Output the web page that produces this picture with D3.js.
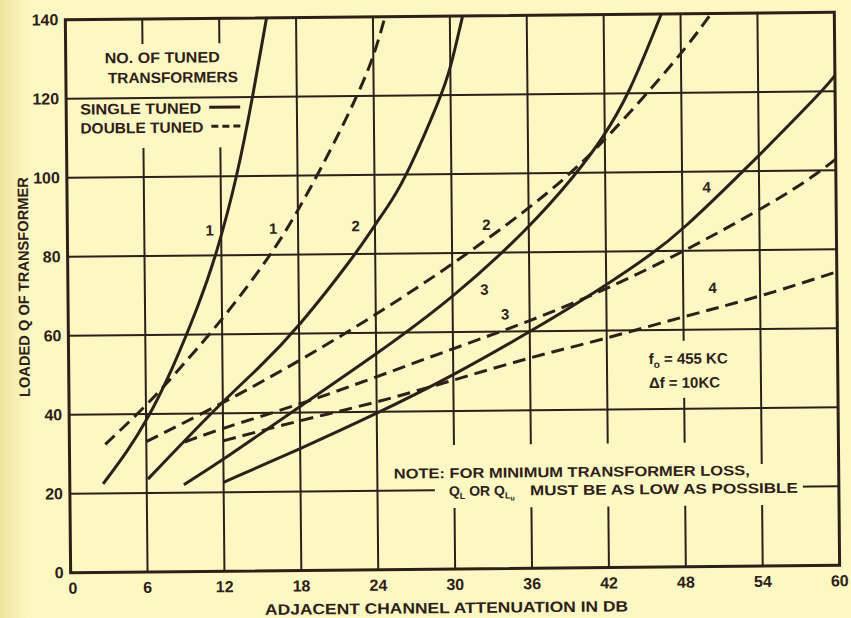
<!DOCTYPE html>
<html><head><meta charset="utf-8">
<script src="https://cdn.jsdelivr.net/npm/d3@7"></script>
<style>
html,body{margin:0;padding:0;background:#fcf8c3}
svg{display:block}
text{font-family:"Liberation Sans",Arial,sans-serif;font-weight:bold;fill:#2e2018}
</style>
</head><body>
<svg id="chart" width="851" height="618"></svg>
<script>
// ---- data ----
const attenuationTicks = [0, 6, 12, 18, 24, 30, 36, 42, 48, 54, 60];
const qTicks = [0, 20, 40, 60, 80, 100, 120, 140];

// [attenuation dB, loaded Q]
const single1 = [[2.6,22.4],[4.5,30.5],[6,38],[8,50.5],[10.2,67.5],[11.6,80],[13.3,100],[14.5,119],[15.7,140]];
const double1 = [[2.8,32.4],[6,42],[8,49],[12,63.5],[15.9,80],[17.9,90.5],[19.8,101.5],[21.9,114.5],[23.9,128.3],[24.9,139.5]];
const single2 = [[6.1,23.5],[11.8,42.5],[14.9,51.5],[17.9,61.3],[22.5,80],[24,87.3],[25.3,93.2],[26.6,100.2],[29.3,120],[30,126.5],[31,140]];
const double2 = [[6,33],[12,42.5],[18,53],[24,64.5],[30,77],[36,91],[39,99],[42,108],[48,129.5],[50.4,140]];
const single3 = [[8.9,22],[12,28.2],[18,41.5],[24,54.5],[30,68.5],[36,86],[39.7,99.5],[41.8,108.5],[43.9,119.5],[46.5,140]];
const double3 = [[9,32.8],[12,36.3],[18,42],[24,48.8],[30,55.8],[36,62.5],[41.8,70.1],[47.9,79.5],[54,90.1],[57.6,97],[60,102.8]];
const single4 = [[12,22.5],[18,30.8],[24,39.5],[30,49],[36,59.8],[41.8,71],[45.7,79.5],[47.9,85],[52.8,100],[59,120],[60,124]];
const double4 = [[12,33],[18,38],[24,42.3],[30,47.8],[36,53.4],[41.4,57.5],[48.2,63.5],[53.9,68.1],[59.9,74.2]];

const seriesData  = [single1, double1, single2, double2, single3, double3, single4, double4];
const seriesType  = ["single","double","single","double","single","double","single","double"];

// curve number labels
const labelText = ["1","1","2","2","3","3","4","4"];
const labelAtt  = [11.1, 16.05, 22.5, 32.7, 32.5, 34.1, 49.9, 50.3];
const labelQ    = [86.3, 86.6, 87.0, 87.0, 70.6, 64.3, 96.0, 70.5];

// ---- drawing ----
const W = 851, H = 618;
const L = 68, R = 837, T = 16, B = 569;
const ink = "#2e2018", bg = "#fcf8c3";

const svg = d3.select("#chart");
const defs = svg.append("defs");
const grad = defs.append("linearGradient").attr("id","edge").attr("x1","0").attr("x2","1");
grad.append("stop").attr("offset","0").attr("stop-color","#efe29c");
grad.append("stop").attr("offset","1").attr("stop-color",bg);
svg.append("rect").attr("width",W).attr("height",H).attr("fill",bg);
svg.append("rect").attr("width",28).attr("height",H).attr("fill","url(#edge)");

defs.append("clipPath").attr("id","plotclip").append("rect")
  .attr("x",L).attr("y",T).attr("width",R-L).attr("height",B-T);

const g = svg.append("g").attr("transform","rotate(-0.55,453,295)");

const x = d3.scaleLinear().domain([0,60]).range([L,R]);
const y = d3.scaleLinear().domain([0,140]).range([B,T]);

// vertical gridlines
g.append("g").selectAll("line").data(attenuationTicks.filter(d=>d>0&&d<60)).join("line")
  .attr("x1",d=>x(d)).attr("x2",d=>x(d)).attr("y1",T).attr("y2",B)
  .attr("stroke",ink).attr("stroke-width",2);

// legend knockout (cuts vertical gridlines)
g.append("rect").attr("x",76).attr("y",41).attr("width",176).attr("height",104).attr("fill",bg);

// horizontal gridlines
g.append("g").selectAll("line").data(qTicks.filter(d=>d>0&&d<140)).join("line")
  .attr("x1",L).attr("x2",R).attr("y1",d=>y(d)).attr("y2",d=>y(d))
  .attr("stroke",ink).attr("stroke-width",2);

// note / frequency knockouts
g.append("rect").attr("x",386).attr("y",445).attr("width",366).attr("height",37).attr("fill",bg);
g.append("rect").attr("x",433).attr("y",467).attr("width",368).attr("height",41).attr("fill",bg);
g.append("rect").attr("x",643).attr("y",343).attr("width",99).attr("height",57).attr("fill",bg);

// border
g.append("rect").attr("x",L).attr("y",T).attr("width",R-L).attr("height",B-T)
  .attr("fill","none").attr("stroke",ink).attr("stroke-width",3);

// curves
const line = d3.line().x(d=>x(d[0])).y(d=>y(d[1])).curve(d3.curveBasis);
g.append("g").attr("clip-path","url(#plotclip)").selectAll("path").data(seriesData).join("path")
  .attr("d",line).attr("fill","none").attr("stroke",ink).attr("stroke-width",3)
  .attr("stroke-linecap","butt")
  .attr("stroke-dasharray",(d,i)=>seriesType[i]==="double"?"13,7":null);

// curve labels
g.append("g").selectAll("text").data(labelText).join("text")
  .attr("x",(d,i)=>x(labelAtt[i])).attr("y",(d,i)=>y(labelQ[i])+5)
  .attr("text-anchor","middle").attr("font-size",15).text(d=>d);

// tick labels
g.append("g").selectAll("text").data(qTicks).join("text")
  .attr("x",61).attr("y",d=>y(d)+5.5).attr("text-anchor","end").attr("font-size",16)
  .text(d=>d);
g.append("g").selectAll("text").data(attenuationTicks).join("text")
  .attr("x",d=>x(d)+(d===0?2:0)).attr("y",B+21).attr("text-anchor","middle").attr("font-size",16)
  .text(d=>d);

// axis titles
g.append("text").attr("x",262).attr("y",613).attr("font-size",15)
  .attr("textLength",363).attr("lengthAdjust","spacingAndGlyphs")
  .text("ADJACENT CHANNEL ATTENUATION IN DB");
g.append("text").attr("transform","translate(29,393) rotate(-90)").attr("font-size",15)
  .attr("textLength",220).attr("lengthAdjust","spacingAndGlyphs")
  .text("LOADED Q OF TRANSFORMER");

// legend
g.append("text").attr("x",107).attr("y",60).attr("font-size",15)
  .attr("textLength",115).attr("lengthAdjust","spacingAndGlyphs").text("NO. OF TUNED");
g.append("text").attr("x",110).attr("y",80).attr("font-size",15)
  .attr("textLength",130).attr("lengthAdjust","spacingAndGlyphs").text("TRANSFORMERS");
g.append("text").attr("x",82).attr("y",111).attr("font-size",15)
  .attr("textLength",121).attr("lengthAdjust","spacingAndGlyphs").text("SINGLE TUNED");
g.append("text").attr("x",82).attr("y",130).attr("font-size",15)
  .attr("textLength",123).attr("lengthAdjust","spacingAndGlyphs").text("DOUBLE TUNED");
g.append("line").attr("x1",211).attr("x2",242).attr("y1",105).attr("y2",105)
  .attr("stroke",ink).attr("stroke-width",3);
g.append("line").attr("x1",213).attr("x2",246).attr("y1",124).attr("y2",124)
  .attr("stroke",ink).attr("stroke-width",3).attr("stroke-dasharray","7,4");

// frequency note
const f0 = g.append("text").attr("x",648).attr("y",366).attr("font-size",15);
f0.append("tspan").text("f");
f0.append("tspan").attr("font-size",10).attr("dy",4).text("o");
f0.append("tspan").attr("dy",-4).text(" = 455 KC");
g.append("text").attr("x",648).attr("y",390).attr("font-size",15).text("\u0394f = 10KC");

// note
g.append("text").attr("x",392).attr("y",478).attr("font-size",14)
  .attr("textLength",356).attr("lengthAdjust","spacingAndGlyphs")
  .text("NOTE: FOR MINIMUM TRANSFORMER LOSS,");
const q2 = g.append("text").attr("x",447).attr("y",496).attr("font-size",14);
q2.append("tspan").text("Q");
q2.append("tspan").attr("font-size",9).attr("dy",3).text("L");
q2.append("tspan").attr("dy",-3).text(" OR Q");
q2.append("tspan").attr("font-size",9).attr("dy",3).text("L");
q2.append("tspan").attr("font-size",7).attr("dy",2).text("u");
g.append("text").attr("x",528).attr("y",496).attr("font-size",14)
  .attr("textLength",268).attr("lengthAdjust","spacingAndGlyphs")
  .text("MUST BE AS LOW AS POSSIBLE");
</script>
</body></html>
